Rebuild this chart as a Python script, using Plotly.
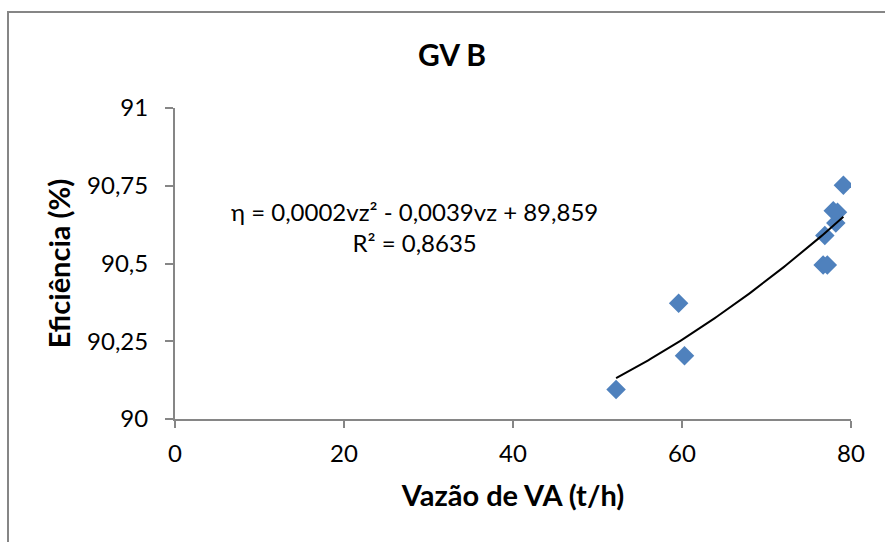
import numpy as np
import plotly.graph_objects as go

# Measured steam flow (t/h) and boiler efficiency (%) for GV B
vazao = [52.2, 59.6, 60.3, 76.7, 77.2, 76.9, 78.2, 77.9, 78.4, 79.1]
eficiencia = [90.095, 90.372, 90.203, 90.495, 90.495, 90.590, 90.630, 90.670, 90.665, 90.752]

x_ticks = [0, 20, 40, 60, 80]
y_ticks = [90, 90.25, 90.5, 90.75, 91]
y_tick_text = ["90", "90,25", "90,5", "90,75", "91"]

equacao = "η = 0,0002vz² - 0,0039vz + 89,859<br>R² = 0,8635"

# Second-order polynomial trendline fitted over the measured range
coef = np.polyfit(vazao, eficiencia, 2)
xs = np.linspace(min(vazao), max(vazao), 100)
ys = np.polyval(coef, xs)

W, H = 885, 542
L, R, T, B = 175, 34, 108, 123
pw, ph = W - L - R, H - T - B

fig = go.Figure()
fig.add_trace(go.Scatter(
    x=vazao, y=eficiencia, mode="markers",
    marker=dict(symbol="diamond", size=15, color="#4F81BD"),
    showlegend=False, hoverinfo="x+y",
))
fig.add_trace(go.Scatter(
    x=xs, y=ys, mode="lines",
    line=dict(color="black", width=2),
    showlegend=False, hoverinfo="skip",
))

font_family = "Lato, 'Open Sans', sans-serif"
axis_color = "#868686"

fig.update_layout(
    width=W, height=H,
    margin=dict(l=L, r=R, t=T, b=B),
    paper_bgcolor="white", plot_bgcolor="white",
    font=dict(family=font_family, color="black"),
    title=dict(text="<b>GV B</b>", x=(452 - L) / pw, xref="paper",
               y=1 - 55 / H, yref="container", xanchor="center", yanchor="middle",
               font=dict(size=30, family=font_family)),
    xaxis=dict(
        range=[0, 80], tickvals=x_ticks, ticktext=[str(v) for v in x_ticks],
        showgrid=False, zeroline=False, showline=True, linecolor=axis_color, linewidth=2,
        ticks="outside", ticklen=7, tickcolor=axis_color, tickwidth=1.5,
        ticklabelstandoff=5,
        tickfont=dict(size=24), title=dict(text="<b>Vazão de VA (t/h)</b>", font=dict(size=29), standoff=20),
    ),
    yaxis=dict(
        range=[90, 91], tickvals=y_ticks, ticktext=y_tick_text,
        showgrid=False, zeroline=False, showline=True, linecolor=axis_color, linewidth=2,
        ticks="outside", ticklen=8, tickcolor=axis_color, tickwidth=1.5,
        ticklabelstandoff=12,
        tickfont=dict(size=24), title=dict(text="<b>Eficiência (%)</b>", font=dict(size=29), standoff=8),
    ),
    annotations=[dict(
        x=28.4, y=90.616, xref="x", yref="y", text=equacao, showarrow=False,
        align="center", font=dict(size=24, family=font_family, color="black"),
    )],
    shapes=[dict(
        type="rect", xref="paper", yref="paper",
        x0=(8 - L) / pw, x1=(W + 5 - L) / pw,
        y0=-(B + 5) / ph, y1=1 + (T - 12) / ph,
        line=dict(color=axis_color, width=2), fillcolor="rgba(0,0,0,0)", layer="below",
    )],
)

fig.write_html("out.html")
